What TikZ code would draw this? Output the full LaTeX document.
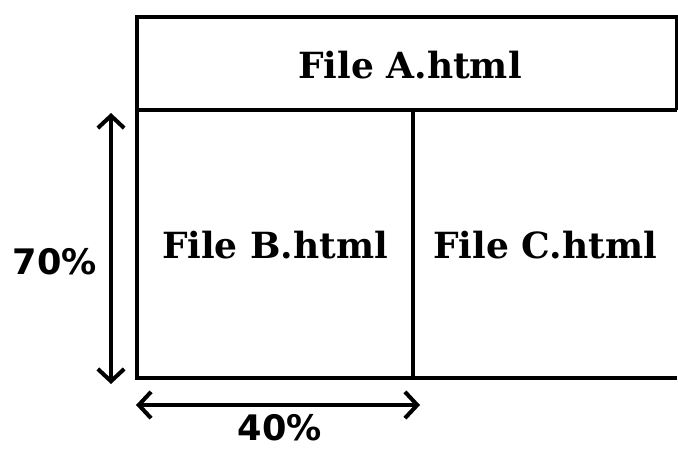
\documentclass[tikz,border=0pt]{standalone}
\usepackage{fontspec}
\setmainfont{DejaVu Serif}
\newfontfamily\pctfont{DejaVu Sans}
\usetikzlibrary{arrows.meta}

\begin{document}
\begin{tikzpicture}[x=0.02cm, y=-0.02cm, line width=2.3pt,
	file/.style={font=\bfseries\fontsize{20.5}{24}\selectfont},
	pct/.style={font=\pctfont\bfseries\fontsize{20}{22}\selectfont, inner sep=0pt},
	dim/.style={{Straight Barb[length=7pt,width=15pt,line width=2.3pt]}-{Straight Barb[length=7pt,width=15pt,line width=2.3pt]}}]
	\useasboundingbox (0,0) rectangle (678,450);

	\coordinate (tl) at (137,17);
	\coordinate (tr) at (677,17);
	\coordinate (ml) at (137,110);
	\coordinate (mr) at (677,110);
	\coordinate (bl) at (137,378);
	\coordinate (br) at (677,378);
	\coordinate (dt) at (413,110);
	\coordinate (db) at (413,378);

	\draw (mr) -- (tr) -- (tl) -- (bl) -- (br);
	\draw (ml) -- (mr);
	\draw (dt) -- (db);

	\node[file] (fa) at (410,65) {File A.html};
	\node[file] (fb) at (275,245) {File B.html};
	\node[file] (fc) at (545,245) {File C.html};

	\coordinate (vt) at (111,113);
	\coordinate (vb) at (111,384);
	\coordinate (hl) at (136,405);
	\coordinate (hr) at (420,405);
	\draw[dim] (vt) -- (vb);
	\draw[dim] (hl) -- (hr);

	\node[pct] (h70) at (55,262) {70\%};
	\node[pct] (w40) at (280,428) {40\%};
\end{tikzpicture}
\end{document}
